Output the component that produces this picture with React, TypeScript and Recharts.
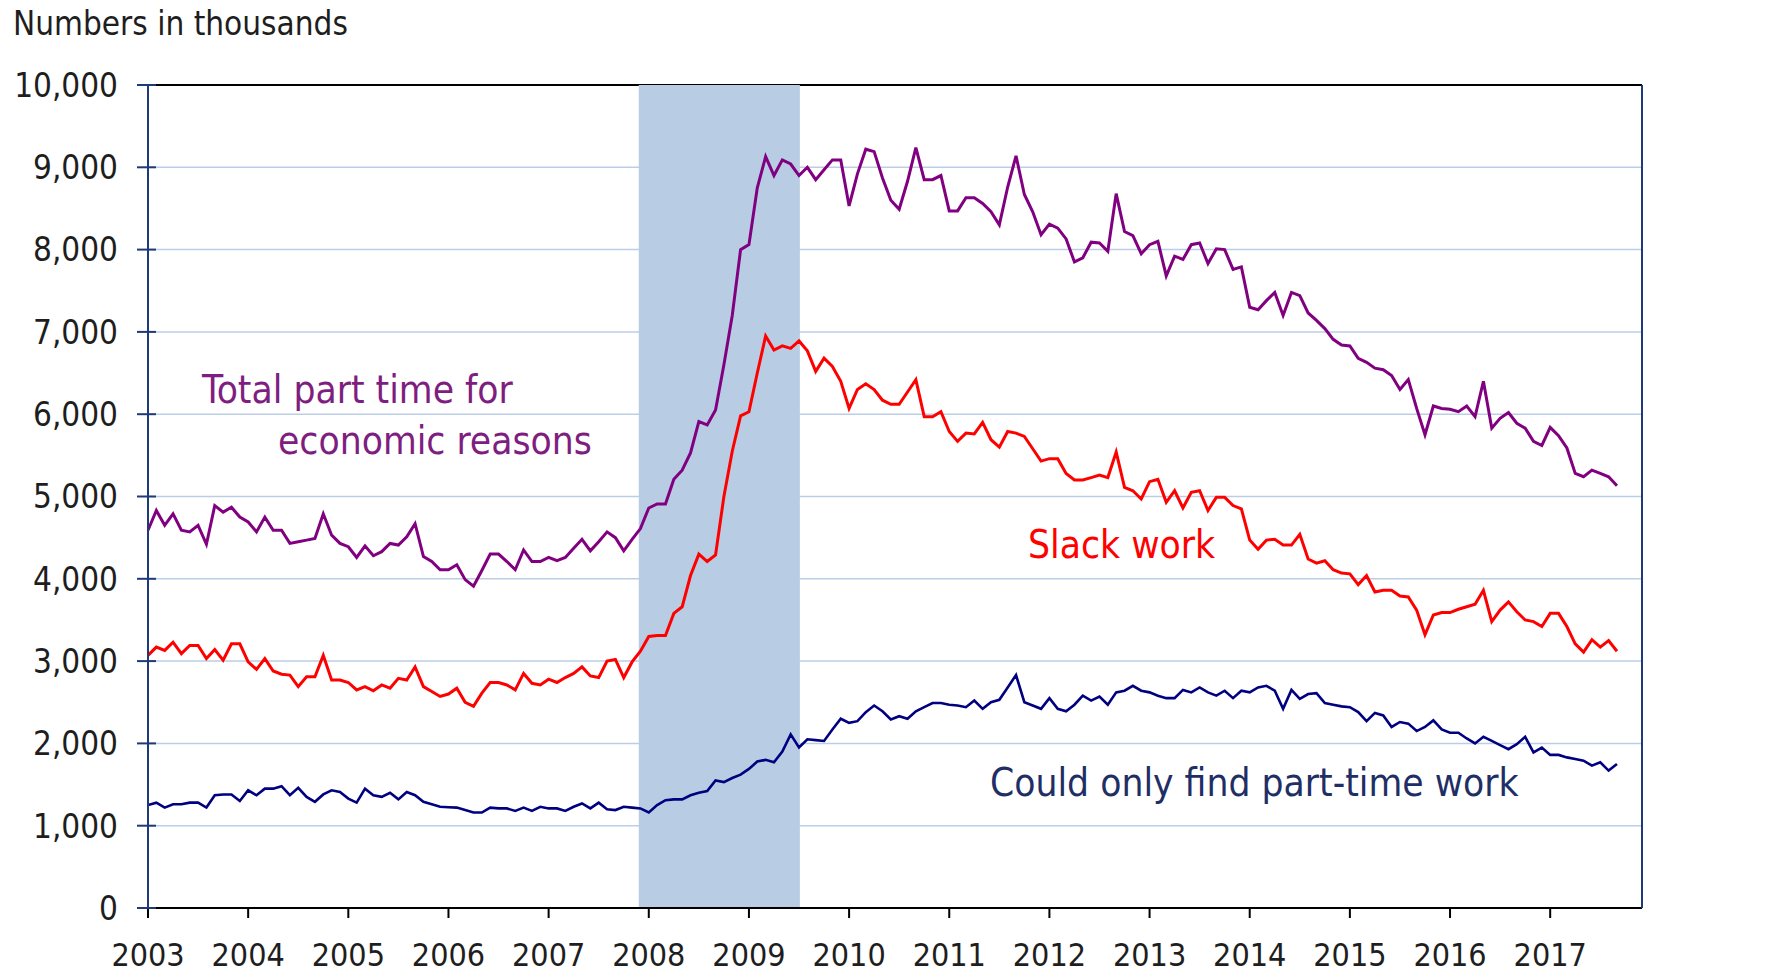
import React from 'react';
import { LineChart, Line, XAxis, YAxis, CartesianGrid, ReferenceArea } from 'recharts';

// Year labels on the x axis (one tick per January)
const YEAR_LABELS = ['2003', '2004', '2005', '2006', '2007', '2008', '2009', '2010', '2011', '2012', '2013', '2014', '2015', '2016', '2017'];

// Monthly values, Jan 2003 .. Sep 2017 (numbers in thousands)
const TOTAL_PART_TIME = [
  4590, 4830, 4650, 4790, 4590, 4570, 4650, 4420, 4890, 4810, 4870, 4750,
  4690, 4570, 4750, 4590, 4590, 4430, 4450, 4470, 4490, 4790, 4530, 4430,
  4390, 4260, 4400, 4280, 4330, 4430, 4410, 4510, 4670, 4270, 4210, 4110,
  4110, 4170, 3990, 3910, 4100, 4300, 4300, 4210, 4110, 4350, 4210, 4210,
  4260, 4220, 4260, 4370, 4480, 4340, 4450, 4570, 4500, 4340, 4480, 4610,
  4860, 4910, 4910, 5210, 5320, 5530, 5910, 5870, 6050, 6600, 7200, 8000,
  8060, 8750, 9130, 8900, 9090, 9040, 8900, 9000, 8850, 8970, 9090, 9090,
  8530, 8920, 9220, 9190, 8870, 8600, 8490, 8830, 9240, 8850, 8850, 8900,
  8470, 8470, 8630, 8630, 8560, 8460, 8300, 8760, 9140, 8670, 8460, 8180,
  8310, 8260, 8130, 7850, 7900, 8090, 8080, 7980, 8680, 8220, 8170, 7950,
  8060, 8100, 7680, 7920, 7880, 8060, 8080, 7830, 8010, 8000, 7760, 7790,
  7300, 7270, 7380, 7480, 7200, 7480, 7440, 7230, 7140, 7040, 6910, 6840,
  6830, 6680, 6630, 6560, 6540, 6470, 6300, 6420, 6070, 5750, 6100, 6070,
  6060, 6030, 6100, 5970, 6400, 5830, 5950, 6020, 5890, 5830, 5670, 5620,
  5840, 5740, 5590, 5280, 5240, 5320, 5280, 5240, 5130,
];

const SLACK_WORK = [
  3070, 3170, 3130, 3230, 3090, 3190, 3190, 3030, 3140, 3010, 3210, 3210,
  2990, 2900, 3030, 2880, 2840, 2830, 2690, 2810, 2810, 3070, 2770, 2770,
  2740, 2650, 2690, 2640, 2710, 2670, 2790, 2770, 2930, 2690, 2630, 2570,
  2600, 2670, 2500, 2450, 2610, 2740, 2740, 2710, 2650, 2850, 2730, 2710,
  2780, 2740, 2800, 2850, 2930, 2820, 2800, 3000, 3020, 2800, 2990, 3120,
  3300, 3310, 3310, 3580, 3660, 4040, 4300, 4210, 4290, 5000, 5550, 5980,
  6030, 6500, 6950, 6780, 6830, 6800, 6890, 6770, 6520, 6680, 6580, 6400,
  6070, 6300, 6370, 6300, 6170, 6120, 6120, 6270, 6420, 5970, 5970, 6030,
  5790, 5670, 5770, 5760, 5900, 5690, 5600, 5790, 5770, 5730, 5580, 5430,
  5460, 5460, 5280, 5200, 5200, 5230, 5260, 5230, 5540, 5110, 5070, 4970,
  5180, 5210, 4930, 5070, 4860, 5050, 5070, 4830, 4990, 4990, 4890, 4850,
  4470, 4360, 4470, 4480, 4410, 4410, 4540, 4240, 4190, 4220, 4110, 4070,
  4060, 3930, 4040, 3840, 3860, 3860, 3790, 3780, 3620, 3320, 3560, 3590,
  3590, 3630, 3660, 3690, 3860, 3480, 3620, 3720, 3600, 3500, 3480, 3420,
  3580, 3580, 3420, 3210, 3110, 3260, 3170, 3250, 3120,
];

const ONLY_PART_TIME = [
  1250, 1280, 1220, 1260, 1260, 1280, 1280, 1220, 1370, 1380, 1380, 1300,
  1430, 1370, 1450, 1450, 1480, 1370, 1460, 1350, 1290, 1380, 1430, 1410,
  1330, 1280, 1450, 1370, 1350, 1400, 1320, 1410, 1370, 1290, 1260, 1230,
  1225, 1220, 1190, 1160, 1160, 1220, 1210, 1210, 1180, 1220, 1180, 1230,
  1210, 1210, 1180, 1230, 1270, 1210, 1280, 1200, 1190, 1230, 1220, 1210,
  1160, 1250, 1310, 1320, 1320, 1370, 1400, 1420, 1550, 1530, 1580, 1620,
  1690, 1780, 1800, 1770, 1900, 2110, 1950, 2050, 2040, 2030, 2170, 2300,
  2250, 2270, 2380, 2460, 2390, 2290, 2330, 2300, 2390, 2440, 2490, 2490,
  2470, 2460, 2440, 2520, 2420, 2500, 2530, 2680, 2830, 2500, 2460, 2420,
  2550, 2420, 2390, 2470, 2580, 2520, 2570, 2470, 2620, 2640, 2700, 2640,
  2620, 2580, 2550, 2550, 2650, 2620, 2680, 2620, 2580, 2640, 2550, 2640,
  2620, 2680, 2700, 2640, 2420, 2650, 2540, 2600, 2610, 2490, 2470, 2450,
  2440, 2380, 2270, 2370, 2340, 2200, 2260, 2240, 2150, 2200, 2280, 2170,
  2130, 2130, 2060, 2000, 2080, 2030, 1980, 1930, 1990, 2080, 1890, 1950,
  1860, 1860, 1830, 1810, 1790, 1730, 1770, 1670, 1750,
];

const Y_TICKS = [0, 1000, 2000, 3000, 4000, 5000, 6000, 7000, 8000, 9000, 10000];
// Recession shading (month index since Jan 2003): Dec 2007 .. Jun 2009
const RECESSION_START = 58.8;
const RECESSION_END = 78.1;
const X_MAX = 179; // Dec 2017

const data = TOTAL_PART_TIME.map((v, i) => ({
  m: i,
  total: v,
  slack: SLACK_WORK[i],
  only: ONLY_PART_TIME[i],
}));
const X_TICKS = YEAR_LABELS.map((_, i) => i * 12);

const FONT = "'DejaVu Sans Condensed', 'DejaVu Sans', Verdana, sans-serif";
const NAVY_AXIS = '#1F3A78';
const TEXT = '#1E1E1E';
const Y_TICK_FS = 33;
const X_TICK_FS = 32;
const ANNOT_FS = 38.6;
const fmt = (v: number) => v.toLocaleString('en-US');

const LeftTick = (props: any) => {
  const { x, y, payload } = props;
  return (
    <g>
      <line x1={x - 11} x2={x + 8} y1={y} y2={y} stroke={NAVY_AXIS} strokeWidth={2} />
      <text x={x - 30} y={y} dy="0.36em" textAnchor="end" fontSize={Y_TICK_FS} fill={TEXT} fontFamily={FONT} style={{ fontStretch: 'condensed' }}>
        {fmt(payload.value)}
      </text>
    </g>
  );
};

const RightTick = (props: any) => {
  const { x, y, payload } = props;
  return (
    <g>
      <line x1={x - 10} x2={x + 10} y1={y} y2={y} stroke={NAVY_AXIS} strokeWidth={2} />
      <text x={x + 25} y={y} dy="0.36em" textAnchor="start" fontSize={Y_TICK_FS} fill={TEXT} fontFamily={FONT} style={{ fontStretch: 'condensed' }}>
        {fmt(payload.value)}
      </text>
    </g>
  );
};

const BottomTick = (props: any) => {
  const { x, y, payload, index } = props;
  return (
    <g>
      <line x1={x} x2={x} y1={y} y2={y + 10} stroke="#000" strokeWidth={2} />
      <text x={x} y={y + 58} textAnchor="middle" fontSize={X_TICK_FS} fill={TEXT} fontFamily={FONT} style={{ fontStretch: 'condensed' }}>
        {YEAR_LABELS[index] ?? String(2003 + Math.round(payload.value / 12))}
      </text>
    </g>
  );
};

// Horizontal gridlines; the line at the top of the plot is the black frame line
const GridLine = (props: any) => {
  const { x1, x2, y1, y2, y } = props;
  const isTop = Math.abs(y1 - y) < 0.5;
  return <line x1={x1} x2={x2} y1={y1} y2={y2} stroke={isTop ? '#000' : '#BCCDE6'} strokeWidth={isTop ? 2.2 : 1.5} />;
};

const labelStyle = (left: number, top: number, color: string, size: number): React.CSSProperties => ({
  position: 'absolute',
  left,
  top,
  color,
  fontSize: size,
  lineHeight: `${size}px`,
  fontFamily: FONT,
  fontStretch: 'condensed',
  whiteSpace: 'nowrap',
});

export default function App() {
  return (
    <div style={{ position: 'absolute', left: 0, top: 0, width: 1780, height: 973, background: '#fff', overflow: 'hidden' }}>
      <LineChart width={1780} height={973} data={data} margin={{ top: 85, right: 0, bottom: 10, left: 0 }}>
        <CartesianGrid horizontal={<GridLine />} vertical={false} yAxisId="left" />
        <XAxis
          dataKey="m"
          type="number"
          domain={[0, X_MAX]}
          ticks={X_TICKS}
          interval={0}
          height={55}
          axisLine={{ stroke: '#000', strokeWidth: 2 }}
          tickLine={false}
          tickSize={0}
          tickMargin={0}
          tick={<BottomTick />}
          allowDataOverflow
        />
        <YAxis
          yAxisId="left"
          orientation="left"
          type="number"
          domain={[0, 10000]}
          ticks={Y_TICKS}
          interval={0}
          width={148}
          axisLine={{ stroke: NAVY_AXIS, strokeWidth: 2 }}
          tickLine={false}
          tickSize={0}
          tickMargin={0}
          tick={<LeftTick />}
        />
        <YAxis
          yAxisId="right"
          orientation="right"
          type="number"
          domain={[0, 10000]}
          ticks={Y_TICKS}
          interval={0}
          width={138}
          axisLine={{ stroke: NAVY_AXIS, strokeWidth: 2 }}
          tickLine={false}
          tickSize={0}
          tickMargin={0}
          tick={<RightTick />}
        />
        <ReferenceArea
          yAxisId="left"
          x1={RECESSION_START}
          x2={RECESSION_END}
          y1={0}
          y2={10000}
          fill="#B8CCE4"
          fillOpacity={1}
          stroke="none"
        />
        <Line yAxisId="left" type="linear" dataKey="only" stroke="#000080" strokeWidth={2.6} dot={false} isAnimationActive={false} />
        <Line yAxisId="left" type="linear" dataKey="slack" stroke="#FF0000" strokeWidth={3} dot={false} isAnimationActive={false} />
        <Line yAxisId="left" type="linear" dataKey="total" stroke="#800080" strokeWidth={3} dot={false} isAnimationActive={false} />
      </LineChart>
      <div style={labelStyle(13, 7, TEXT, 33)}>Numbers in thousands</div>
      <div style={labelStyle(202, 371, '#7E1E80', ANNOT_FS)}>Total part time for</div>
      <div style={labelStyle(278, 422, '#7E1E80', ANNOT_FS)}>economic reasons</div>
      <div style={labelStyle(1028, 526, '#FF0000', ANNOT_FS)}>Slack work</div>
      <div style={labelStyle(990, 764, '#1F2F65', ANNOT_FS)}>Could only find part-time work</div>
    </div>
  );
}
